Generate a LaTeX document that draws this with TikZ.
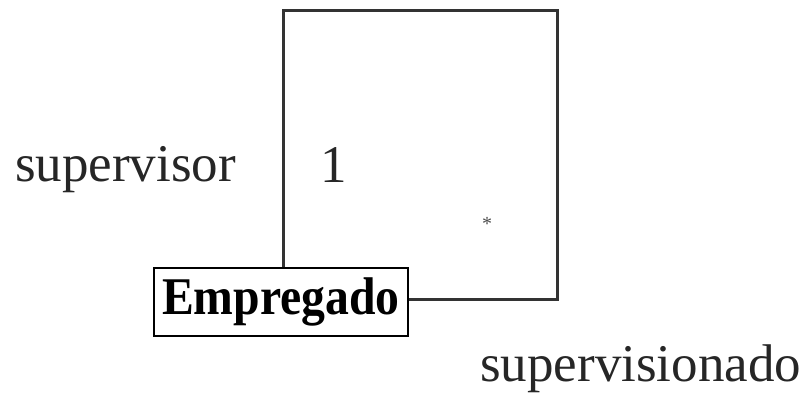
\documentclass[tikz,border=0pt]{standalone}
\usepackage{fontspec}
\setmainfont{Liberation Serif}
\usetikzlibrary{calc}
\definecolor{linegray}{HTML}{333333}
\tikzset{
  label/.style={inner sep=0pt, font=\fontsize{53}{60}\selectfont, text=black!85},
  classbox/.style={draw=black, line width=2.2pt, inner sep=0pt, minimum width=254pt, minimum height=68pt,
    font=\fontsize{53}{60}\selectfont\bfseries, text height=37pt, text depth=11pt},
  assoc/.style={draw=linegray, line width=3pt}
}
\begin{document}
\begin{tikzpicture}[x=1pt,y=-1pt]
\useasboundingbox (0,0) rectangle (803,395);
\node[classbox] (emp) at (281,302) {\scalebox{0.9}[1]{Empregado}};
\coordinate (tl) at (283,11);
\coordinate (tr) at (557,11);
\coordinate (br) at (557,300);
\draw[assoc, line join=miter] (emp.north -| tl) -- (tl) -- (tr) -- (br) -- (br -| emp.east);
\node[label, anchor=base west] (sup) at (15,182) {supervisor};
\node[label, anchor=base] (one) at (333.5,183) {1};
\node[inner sep=0pt, font=\fontsize{20}{22}\selectfont, text=black!70] (many) at (487,224) {*};
\node[label, anchor=base west] (supd) at (480,381) {supervisionado};
\end{tikzpicture}
\end{document}
